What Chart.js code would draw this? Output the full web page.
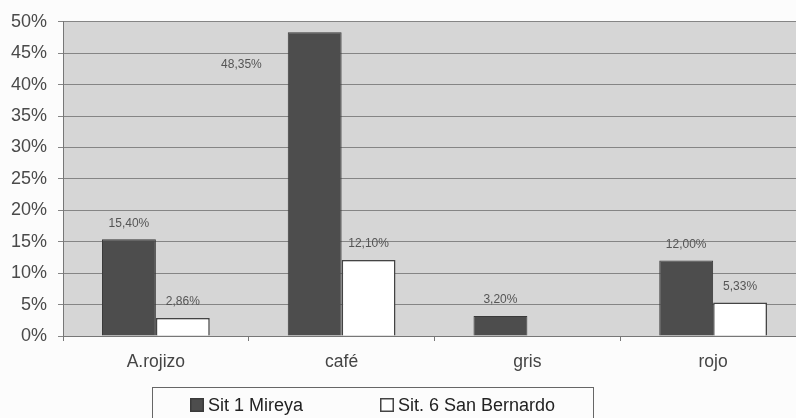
<!DOCTYPE html>
<html>
<head>
<meta charset="utf-8">
<script src="https://cdn.jsdelivr.net/npm/chart.js@4.4.1/dist/chart.umd.min.js"></script>
<style>
  html, body { margin: 0; padding: 0; background: #fcfcfc; overflow: hidden; }
  #wrap { position: relative; width: 806px; height: 418px; }
</style>
</head>
<body>
<div id="wrap"><canvas id="c"></canvas></div>
<script>
// Color categories and the share found at each site (%)
const categories = ['A.rojizo', 'café', 'gris', 'rojo'];
const sit1Mireya = [15.40, 48.35, 3.20, 12.00];
const sit6SanBernardo = [2.86, 12.10, null, 5.33];
const seriesNames = ['Sit 1 Mireya', 'Sit. 6 San Bernardo'];
const yTicks = [0, 5, 10, 15, 20, 25, 30, 35, 40, 45, 50];

const FONT = 'Arial, "Liberation Sans", sans-serif';

// Grey plot area behind the bars
const plotBackground = {
  id: 'plotBackground',
  beforeDraw(chart) {
    const { ctx, chartArea: a } = chart;
    ctx.save();
    ctx.fillStyle = '#d6d6d6';
    ctx.fillRect(a.left, a.top, a.right - a.left, a.bottom - a.top);
    ctx.restore();
  }
};

// Percentage labels above each bar
const valueLabels = {
  id: 'valueLabels',
  afterDatasetsDraw(chart) {
    const { ctx, chartArea: a } = chart;
    ctx.save();
    ctx.font = '12px ' + FONT;
    ctx.fillStyle = '#555';
    ctx.textAlign = 'center';
    ctx.textBaseline = 'middle';
    chart.data.datasets.forEach((ds, di) => {
      const meta = chart.getDatasetMeta(di);
      meta.data.forEach((bar, i) => {
        const v = ds.data[i];
        if (v === null || v === undefined) return;
        const txt = v.toFixed(2).replace('.', ',') + '%';
        let x = bar.x, y = bar.y - 16;
        if (y - 8 < a.top) {
          // no room above the bar: set the label off to its left
          x = bar.x - bar.width * 1.36;
          y = bar.y + 33;
        }
        ctx.fillText(txt, x, y);
      });
    });
    ctx.restore();
  }
};

// Boxed legend under the axis
const boxedLegend = {
  id: 'boxedLegend',
  afterDraw(chart, args, opts) {
    const { ctx } = chart;
    ctx.save();
    ctx.strokeStyle = '#666';
    ctx.lineWidth = 1;
    ctx.strokeRect(opts.left + 0.5, opts.top + 0.5, opts.width, opts.height);
    ctx.font = '18px ' + FONT;
    ctx.textBaseline = 'middle';
    ctx.textAlign = 'left';
    const cy = opts.top + 18;
    chart.data.datasets.forEach((ds, i) => {
      const sx = opts.itemX[i];
      ctx.fillStyle = ds.backgroundColor;
      ctx.fillRect(sx, cy - 7, 14, 14);
      ctx.strokeStyle = ds.borderColor;
      ctx.lineWidth = 1.5;
      ctx.strokeRect(sx + 0.75, cy - 6.25, 12.5, 12.5);
      ctx.fillStyle = '#222';
      ctx.fillText(ds.label, sx + 18, cy + 1);
    });
    ctx.restore();
  }
};

new Chart(document.getElementById('c'), {
  type: 'bar',
  data: {
    labels: categories,
    datasets: [
      {
        label: seriesNames[0],
        data: sit1Mireya,
        backgroundColor: '#4d4d4d',
        borderColor: '#3a3a3a',
        borderWidth: 1
      },
      {
        label: seriesNames[1],
        data: sit6SanBernardo,
        backgroundColor: '#ffffff',
        borderColor: '#444444',
        borderWidth: 1.5
      }
    ]
  },
  options: {
    responsive: true,
    maintainAspectRatio: false,
    animation: false,
    datasets: { bar: { categoryPercentage: 0.58, barPercentage: 1.0 } },
    layout: { padding: { top: 19, left: 0, right: 0, bottom: 42 } },
    plugins: {
      legend: { display: false },
      tooltip: { enabled: false },
      boxedLegend: { left: 152, top: 387, width: 441, height: 40, itemX: [190, 380] }
    },
    scales: {
      x: {
        offset: true,
        afterFit(s) { s.height = 40; },
        grid: {
          offset: true,
          drawOnChartArea: false,
          drawTicks: true,
          tickLength: 5,
          color: '#777'
        },
        border: { display: true, color: '#777', width: 1 },
        ticks: { font: { size: 17.5, family: FONT }, color: '#444', padding: 11 }
      },
      y: {
        min: 0,
        max: 50,
        afterFit(s) { s.width = 63; },
        afterBuildTicks(s) { s.ticks = yTicks.map(v => ({ value: v })); },
        grid: { color: '#858585', lineWidth: 1, tickLength: 5 },
        border: { display: true, color: '#777', width: 1 },
        ticks: {
          font: { size: 18, family: FONT },
          color: '#4a4a4a',
          padding: 11,
          callback: v => v + '%'
        }
      }
    }
  },
  plugins: [plotBackground, valueLabels, boxedLegend]
});
</script>
</body>
</html>
